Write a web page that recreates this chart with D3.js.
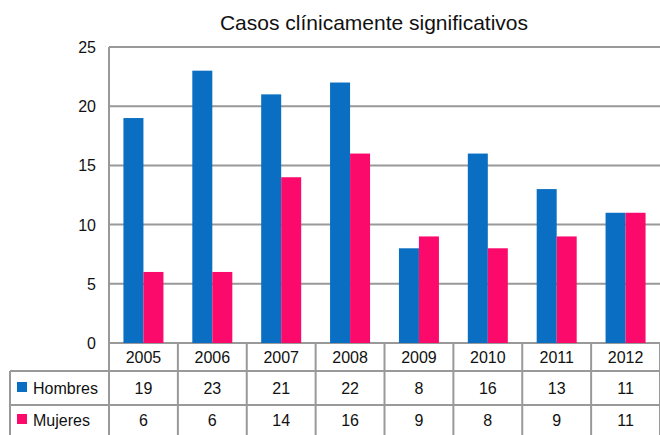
<!DOCTYPE html>
<html>
<head>
<meta charset="utf-8">
<script src="https://cdn.jsdelivr.net/npm/d3@7"></script>
<style>
  body { margin: 0; background: #fff; }
  text { font-family: "Liberation Sans", Arial, Helvetica, sans-serif; fill: #111; }
</style>
</head>
<body>
<svg id="chart" width="660" height="435"></svg>
<script>
const years = ['2005', '2006', '2007', '2008', '2009', '2010', '2011', '2012']
const hombres = [19, 23, 21, 22, 8, 16, 13, 11]
const mujeres = [6, 6, 14, 16, 9, 8, 9, 11]
const seriesNames = ['Hombres', 'Mujeres']
const colors = ['#0a6fc2', '#fc0a6b']
const yTicks = [0, 5, 10, 15, 20, 25]

const svg = d3.select('#chart')
const pLeft = 109, pRight = 660, pTop = 47, pBottom = 343
const gridColor = '#999'

const x = d3.scaleBand().domain(years).range([pLeft, pRight])
const xs = d3.scaleBand().domain(seriesNames).range([0, 40])
const y = d3.scaleLinear().domain([0, 25]).range([pBottom, pTop])

// title
svg.append('text')
  .attr('x', 374).attr('y', 30)
  .attr('text-anchor', 'middle')
  .style('font-size', '21px')
  .text('Casos clínicamente significativos')

// gridlines
svg.append('g').selectAll('line')
  .data(yTicks)
  .join('line')
  .attr('x1', pLeft).attr('x2', pRight + 2)
  .attr('y1', d => y(d)).attr('y2', d => y(d))
  .attr('stroke', gridColor).attr('stroke-width', 2)

// y axis labels
svg.append('g').selectAll('text')
  .data(yTicks)
  .join('text')
  .attr('x', 96).attr('y', d => y(d) + 6)
  .attr('text-anchor', 'end')
  .style('font-size', '16px')
  .text(d => d)

// bars
const data = [hombres, mujeres]
const groups = svg.append('g').selectAll('g')
  .data(seriesNames)
  .join('g')
  .attr('fill', (d, i) => colors[i])

groups.selectAll('rect')
  .data((s, si) => years.map((yr, i) => ({ yr, s, v: data[si][i] })))
  .join('rect')
  .attr('x', d => x(d.yr) + x.bandwidth() / 2 - 20 + xs(d.s))
  .attr('width', xs.bandwidth())
  .attr('y', d => y(d.v))
  .attr('height', d => y(0) - y(d.v))

// table
const rowH = [343, 371, 405, 440]
const tbl = svg.append('g')
const line = (x1, y1, x2, y2) => tbl.append('line')
  .attr('x1', x1).attr('y1', y1).attr('x2', x2).attr('y2', y2)
  .attr('stroke', gridColor).attr('stroke-width', 2)

line(pLeft, pTop, pLeft, 440)
line(pRight, pBottom, pRight, 440)
line(10, rowH[1], pRight, rowH[1])
line(10, rowH[2], pRight, rowH[2])
line(10, rowH[1], 10, 440)
years.forEach(yr => { if (x(yr) > pLeft) line(x(yr), pBottom, x(yr), 440) })

tbl.selectAll('.yr')
  .data(years)
  .join('text')
  .attr('class', 'yr')
  .attr('x', d => x(d) + x.bandwidth() / 2)
  .attr('y', 363)
  .attr('text-anchor', 'middle')
  .style('font-size', '16px')
  .text(d => d)

data.forEach((vals, si) => {
  const cy = (rowH[si + 1] + Math.min(rowH[si + 2], 435)) / 2 + 6
  tbl.append('rect')
    .attr('x', 17).attr('y', cy - 12)
    .attr('width', 10).attr('height', 10)
    .attr('fill', colors[si])
  tbl.append('text')
    .attr('x', 33).attr('y', cy)
    .style('font-size', '16px')
    .text(seriesNames[si])
  tbl.append('g').selectAll('text')
    .data(vals)
    .join('text')
    .attr('x', (d, i) => x(years[i]) + x.bandwidth() / 2)
    .attr('y', cy)
    .attr('text-anchor', 'middle')
    .style('font-size', '16px')
    .text(d => d)
})
</script>
</body>
</html>
